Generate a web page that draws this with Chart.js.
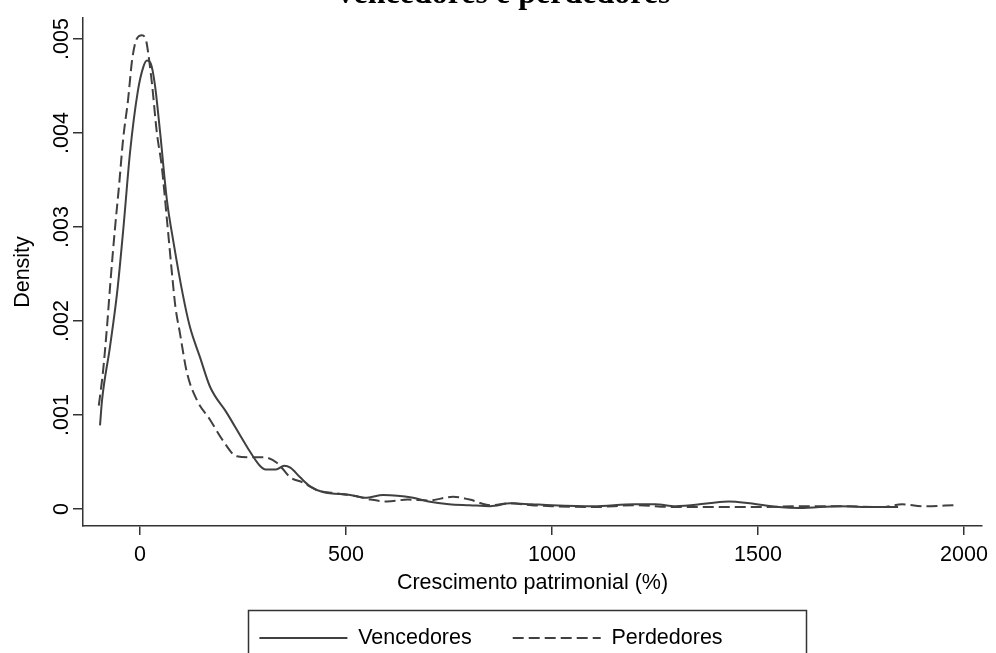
<!DOCTYPE html>
<html><head><meta charset="utf-8">
<script src="https://cdn.jsdelivr.net/npm/chart.js@4.4.1/dist/chart.umd.min.js"></script>
<style>html,body{margin:0;padding:0;background:#fff;overflow:hidden}#wrap{width:996px;height:653px;position:relative}</style>
</head><body><div id="wrap"><canvas id="c" width="996" height="653"></canvas></div>
<script>
const titleText = 'vencedores e perdedores';
const xTitle = 'Crescimento patrimonial (%)';
const yTitle = 'Density';
const seriesNames = ['Vencedores', 'Perdedores'];
const xTicks = [0, 500, 1000, 1500, 2000];
const xTickLabels = ['0', '500', '1000', '1500', '2000'];
const yTicks = [0, 0.001, 0.002, 0.003, 0.004, 0.005];
const yTickLabels = ['0', '.001', '.002', '.003', '.004', '.005'];

const vencX = [-97, -92, -73, -55, -40, -24, -5, 8, 17, 26, 36, 49, 65, 82, 104, 121, 146, 170, 211, 260, 291, 305, 330, 350, 365, 388, 413, 444, 510, 551, 590, 663, 700, 750, 800, 850, 900, 950, 1000, 1100, 1200, 1250, 1300, 1380, 1430, 1480, 1550, 1600, 1700, 1780, 1840];
const vencY = [0.00089, 0.00116, 0.00172, 0.00232, 0.0030, 0.0038, 0.00445, 0.00470, 0.00477, 0.00474, 0.00452, 0.0040, 0.0033, 0.00282, 0.00228, 0.00194, 0.00161, 0.0013, 0.00102, 0.00066, 0.00046, 0.00042, 0.00042, 0.00046, 0.00044, 0.00034, 0.00024, 0.00018, 0.00015, 0.00012, 0.00015, 0.00012, 0.00008, 0.00005, 0.00004, 0.00003, 0.00006, 0.00005, 0.00004, 0.00003, 0.00005, 0.00005, 0.00003, 0.00006, 0.00008, 0.00006, 0.00002, 0.00001, 0.00003, 0.00002, 0.00002];
const perdX = [-100, -90, -80, -72, -61, -51, -41, -29, -19, -8, 5, 15, 19, 29, 41, 53, 66, 80, 86, 97, 114, 138, 170, 201, 235, 270, 300, 333, 364, 396, 430, 470, 520, 560, 600, 650, 700, 760, 800, 850, 900, 950, 1000, 1100, 1200, 1300, 1400, 1500, 1600, 1700, 1800, 1850, 1900, 1980];
const perdY = [0.0011, 0.00145, 0.00194, 0.0024, 0.00297, 0.00343, 0.00393, 0.00435, 0.00478, 0.00500, 0.00504, 0.00498, 0.00488, 0.00453, 0.0040, 0.00364, 0.00305, 0.0024, 0.00215, 0.00187, 0.00145, 0.00116, 0.00095, 0.00073, 0.00056, 0.00055, 0.00055, 0.00049, 0.00034, 0.00028, 0.0002, 0.00017, 0.00014, 0.0001, 0.00008, 0.0001, 0.00009, 0.00013, 0.0001, 0.00004, 0.00006, 0.00004, 0.00003, 0.00002, 0.00004, 0.00002, 0.00002, 0.00002, 0.00003, 0.00003, 0.00002, 0.00005, 0.00003, 0.00004];

const toPts = (xs, ys) => xs.map((x, i) => ({x: x, y: ys[i]}));
const LINE = '#404040';
const FONT = 'Liberation Sans, Arial, sans-serif';
const FS = 21.5;

const legendBox = {
  id: 'legendBox',
  afterLayout(chart) {
    if (chart.titleBlock) { chart.titleBlock.left += 26; }
  },
  afterDraw(chart) {
    const lg = chart.legend;
    if (!lg || !lg.legendHitBoxes || !lg.legendHitBoxes.length) return;
    const hb = lg.legendHitBoxes;
    let l = Infinity, r = -Infinity, t = Infinity;
    hb.forEach(h => { l = Math.min(l, h.left); r = Math.max(r, h.left + h.width); t = Math.min(t, h.top); });
    const ctx = chart.ctx;
    ctx.save();
    ctx.strokeStyle = '#333';
    ctx.lineWidth = 1.5;
    ctx.strokeRect(Math.round(l - 11) + 0.5, Math.round(t - 17) + 0.5, Math.round(r + 84 - (l - 11)), 80);
    ctx.restore();
  }
};

new Chart(document.getElementById('c'), {
  type: 'line',
  data: {
    datasets: [
      {label: seriesNames[0], data: toPts(vencX, vencY), borderColor: LINE, backgroundColor: LINE, borderWidth: 2, pointRadius: 0, fill: false, cubicInterpolationMode: 'monotone'},
      {label: seriesNames[1], data: toPts(perdX, perdY), borderColor: LINE, backgroundColor: LINE, borderWidth: 2, borderDash: [11, 5], pointRadius: 0, fill: false, cubicInterpolationMode: 'monotone'}
    ]
  },
  options: {
    responsive: false,
    animation: false,
    devicePixelRatio: 1,
    layout: {padding: {left: 0, right: 14, top: 0, bottom: -5.75}},
    plugins: {
      title: {display: true, text: titleText, color: '#000', font: {family: 'Liberation Serif, Times New Roman, serif', size: 32, weight: 'bold'}, padding: {top: -24, bottom: 3.6}},
      legend: {
        display: true, position: 'bottom',
        labels: {
          usePointStyle: true, pointStyle: 'line', pointStyleWidth: 88, color: '#000', padding: 41, font: {family: FONT, size: FS},
          generateLabels: chart => chart.data.datasets.map((ds, i) => ({
            text: ds.label, strokeStyle: ds.borderColor, fillStyle: ds.borderColor, lineWidth: ds.borderWidth,
            lineDash: ds.borderDash || [], pointStyle: 'line', hidden: false, datasetIndex: i, fontColor: '#000'
          }))
        }
      },
      tooltip: {enabled: false}
    },
    scales: {
      x: {
        type: 'linear', min: -138.3, max: 2043.7,
        afterBuildTicks: s => { s.ticks = xTicks.map(v => ({value: v})); },
        afterFit: s => { s.height = 60.25; },
        ticks: {autoSkip: false, maxRotation: 0, minRotation: 0, padding: 7, color: '#000', font: {family: FONT, size: FS}, callback: (v, i) => xTickLabels[i]},
        grid: {display: true, drawOnChartArea: false, drawTicks: true, tickLength: 9, color: '#333', lineWidth: 1.5},
        border: {display: true, color: '#333', width: 1.5},
        title: {display: true, text: xTitle, color: '#000', font: {family: FONT, size: FS}, padding: {top: 0, bottom: -9.65}}
      },
      y: {
        type: 'linear', min: -0.000181, max: 0.005223,
        afterBuildTicks: s => { s.ticks = yTicks.map(v => ({value: v})); },
        afterFit: s => { s.width = 83; },
        ticks: {autoSkip: false, minRotation: 90, maxRotation: 90, crossAlign: 'center', padding: -10, color: '#000', font: {family: FONT, size: FS}, callback: (v, i) => yTickLabels[i]},
        grid: {display: true, drawOnChartArea: false, drawTicks: true, tickLength: 10, color: '#333', lineWidth: 1.5},
        border: {display: true, color: '#333', width: 1.5},
        title: {display: true, text: yTitle, color: '#000', font: {family: FONT, size: FS}, padding: {top: 10, bottom: 0}}
      }
    }
  },
  plugins: [legendBox]
});
</script></body></html>
